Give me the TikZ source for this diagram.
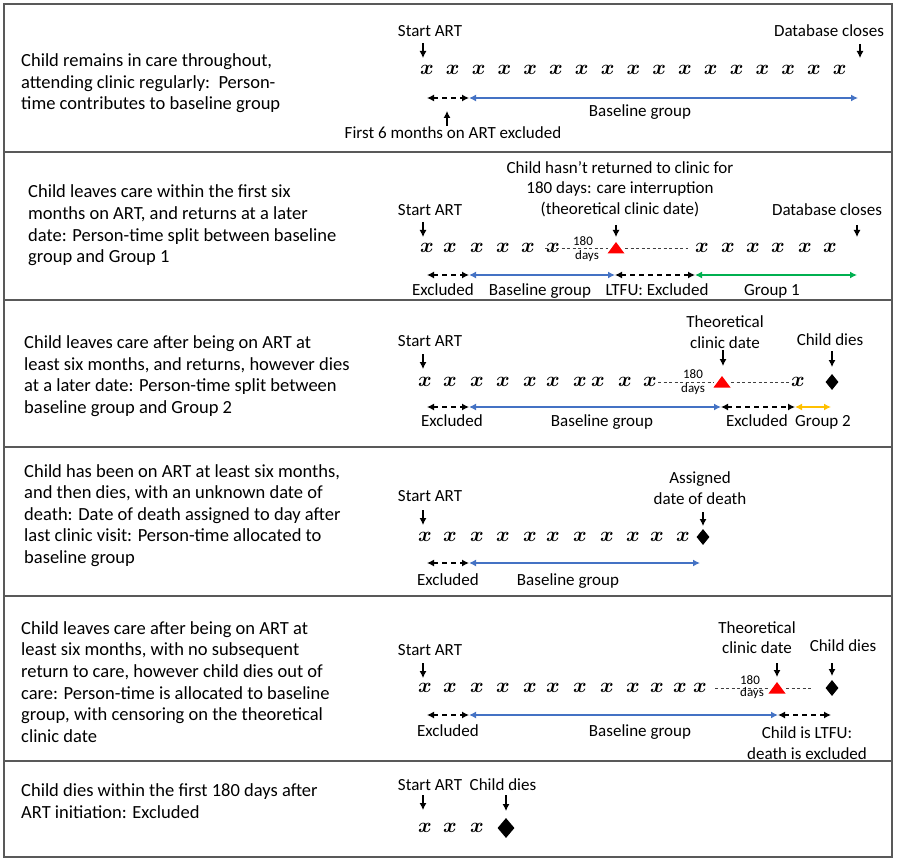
\documentclass[tikz,border=0pt]{standalone}
\usepackage{fontspec}
\usepackage{bm}
\setmainfont{Carlito}
\usetikzlibrary{arrows.meta,shapes.geometric,calc}
\definecolor{bl}{HTML}{4472C4}
\definecolor{gr}{HTML}{00B050}
\definecolor{yl}{HTML}{FFC000}
\definecolor{framec}{HTML}{595959}
\begin{document}
\begin{tikzpicture}[x=1pt,y=-1pt,
  desc/.style={anchor=west,align=left,inner sep=0,font=\fontsize{18.5}{21.6}\selectfont},
  lbl/.style={inner sep=0,align=center,font=\fontsize{17}{20.5}\selectfont},
  lbls/.style={lbl,text height=11pt,text depth=3.5pt},
  small/.style={inner sep=0,font=\fontsize{13}{13}\selectfont,text height=8pt,text depth=2.5pt},
  mk/.style={inner sep=0,font=\fontsize{21}{21}\selectfont},
  dia/.style={diamond,fill=black,inner sep=0,minimum width=13pt,minimum height=16pt},
  dn/.style={-{Latex[length=7pt,width=7pt]},line width=1.1pt},
  dashar/.style={{Latex[length=7pt,width=7pt]}-{Latex[length=7pt,width=7pt]},line width=1.3pt,dash pattern=on 5pt off 4pt},
  solar/.style={{Latex[length=7pt,width=7pt]}-{Latex[length=7pt,width=7pt]},line width=1.4pt},
  gap/.style={black!75,line width=0.9pt,dash pattern=on 3pt off 2.5pt},
  tri/.style={fill=red}
]
\useasboundingbox (0,0) rectangle (897,861);
\fill[white] (0,0) rectangle (897,861);
% frame
\draw[framec,line width=1.4pt] (4,4) rectangle (892,857);
\foreach \yy in {152,300,447,596,761} \draw[framec,line width=1.4pt] (4,\yy) -- (892,\yy);

% ---------------- Row 1
\node[desc] (d1) at (21,83.5) {Child remains in care throughout,\\attending clinic regularly:\ \ Person-\\time contributes to baseline group};
\node[lbls] (r1start) at (430,33) {Start ART};
\node[lbls] (r1db) at (829,33) {Database closes};
\foreach \i in {0,...,16} \node[mk] (r1x\i) at ({427+25.8*\i},70) {$\bm{x}$};
\coordinate (r1sa) at (423,43); \coordinate (r1sb) at (423,58);
\coordinate (r1da) at (860,44); \coordinate (r1db2) at (860,58);
\draw[dn] (r1sa) -- (r1sb);
\draw[dn] (r1da) -- (r1db2);
\coordinate (r1e0) at (427,98); \coordinate (r1e1) at (469,98); \coordinate (r1e2) at (858,98);
\draw[dashar] (r1e0) -- (r1e1);
\draw[solar,bl] (r1e1) -- (r1e2);
\node[lbls] (r1bg) at (640,113) {Baseline group};
\node[lbls] (r1first) at (453,135) {First 6 months on ART excluded};
\coordinate (r1ua) at (447,126); \coordinate (r1ub) at (447,111);
\draw[dn] (r1ua) -- (r1ub);

% ---------------- Row 2
\node[desc] (d2) at (28,225.5) {Child leaves care within the first six\\months on ART, and returns at a later\\date: Person-time split between baseline\\group and Group 1};
\node[lbl] (r2note) at (620,189) {Child hasn’t returned to clinic for\\180 days: care interruption\\(theoretical clinic date)};
\node[lbls] (r2start) at (430,212) {Start ART};
\node[lbls] (r2db) at (827,212) {Database closes};
\foreach \xx [count=\i] in {427,450,477,503,528,553,702,728,753,778,805,830} \node[mk] (r2x\i) at (\xx,248) {$\bm{x}$};
\coordinate (r2t) at (616,248);
\fill[tri] ($(r2t)+(-8.5,5.5)$) -- ($(r2t)+(8.5,5.5)$) -- ($(r2t)+(0,-6)$) -- cycle;
\coordinate (r2ga) at (545,248); \coordinate (r2gb) at (608,248);
\coordinate (r2gc) at (625,248); \coordinate (r2gd) at (688,248);
\draw[gap] (r2ga) -- (r2gb);
\draw[gap] (r2gc) -- (r2gd);
\node[small] (r2n180) at (583,243) {180};
\node[small] (r2days) at (587,257) {days};
\draw[dn] (423,222) coordinate (r2sa) -- (423,237) coordinate (r2sb);
\draw[dn] (616,225) coordinate (r2na) -- (616,237) coordinate (r2nb);
\draw[dn] (857,225) coordinate (r2da) -- (857,237) coordinate (r2dbb);
\coordinate (r2e0) at (427,275); \coordinate (r2e1) at (469,275);
\coordinate (r2e2) at (615,275); \coordinate (r2e3) at (695,275); \coordinate (r2e4) at (857,275);
\draw[dashar] (r2e0) -- (r2e1);
\draw[solar,bl] (r2e1) -- (r2e2);
\draw[dashar] (r2e2) -- (r2e3);
\draw[solar,gr] (r2e3) -- (r2e4);
\node[lbls] (r2ex) at (443,292) {Excluded};
\node[lbls] (r2bg) at (540,292) {Baseline group};
\node[lbls] (r2lt) at (657,292) {LTFU: Excluded};
\node[lbls] (r2g1) at (772,292) {Group 1};

% ---------------- Row 3
\node[desc] (d3) at (24,376) {Child leaves care after being on ART at\\least six months, and returns, however dies\\at a later date: Person-time split between\\baseline group and Group 2};
\node[lbl] (r3theo) at (725,332) {Theoretical\\clinic date};
\node[lbls] (r3start) at (430,343) {Start ART};
\node[lbls] (r3dies) at (830,342) {Child dies};
\foreach \xx [count=\i] in {425,450,477,503,530,553,580,598,625,650,798} \node[mk] (r3x\i) at (\xx,382) {$\bm{x}$};
\coordinate (r3t) at (722,382);
\fill[tri] ($(r3t)+(-8.5,5.5)$) -- ($(r3t)+(8.5,5.5)$) -- ($(r3t)+(0,-6)$) -- cycle;
\node[dia] (r3d) at (832,382) {};
\coordinate (r3ga) at (658,382); \coordinate (r3gb) at (714,382);
\coordinate (r3gc) at (731,382); \coordinate (r3gd) at (789,382);
\draw[gap] (r3ga) -- (r3gb);
\draw[gap] (r3gc) -- (r3gd);
\node[small] (r3n180) at (693,376) {180};
\node[small] (r3days) at (693,390) {days};
\draw[dn] (423,354) coordinate (r3sa) -- (423,369) coordinate (r3sb);
\draw[dn] (723,350) coordinate (r3ta) -- (723,366) coordinate (r3tb);
\draw[dn] (832,351) coordinate (r3ca) -- (832,367) coordinate (r3cb);
\coordinate (r3e0) at (427,407); \coordinate (r3e1) at (469,407);
\coordinate (r3e2) at (721,407); \coordinate (r3e3) at (795,407); \coordinate (r3e4) at (831,407);
\draw[dashar] (r3e0) -- (r3e1);
\draw[solar,bl] (r3e1) -- (r3e2);
\draw[dashar] (r3e2) -- (r3e3);
\draw[solar,yl] (r3e3) -- (r3e4);
\node[lbls] (r3ex) at (452,423) {Excluded};
\node[lbls] (r3bg) at (602,423) {Baseline group};
\node[lbls] (r3ex2) at (757,423) {Excluded};
\node[lbls] (r3g2) at (823,423) {Group 2};

% ---------------- Row 4
\node[desc] (d4) at (24,515.5) {Child has been on ART at least six months,\\and then dies, with an unknown date of\\death: Date of death assigned to day after\\last clinic visit: Person-time allocated to\\baseline group};
\node[lbl] (r4as) at (700,488) {Assigned\\date of death};
\node[lbls] (r4start) at (430,498) {Start ART};
\foreach \xx [count=\i] in {425,450,477,503,530,553,580,607,633,657,683} \node[mk] (r4x\i) at (\xx,537) {$\bm{x}$};
\node[dia] (r4d) at (703,537) {};
\draw[dn] (423,510) coordinate (r4sa) -- (423,525) coordinate (r4sb);
\draw[dn] (703,512) coordinate (r4aa) -- (703,526) coordinate (r4ab);
\coordinate (r4e0) at (427,563); \coordinate (r4e1) at (469,563); \coordinate (r4e2) at (700,563);
\draw[dashar] (r4e0) -- (r4e1);
\draw[solar,bl] (r4e1) -- (r4e2);
\node[lbls] (r4ex) at (448,582) {Excluded};
\node[lbls] (r4bg) at (568,582) {Baseline group};

% ---------------- Row 5
\node[desc] (d5) at (21,682) {Child leaves care after being on ART at\\least six months, with no subsequent\\return to care, however child dies out of\\care: Person-time is allocated to baseline\\group, with censoring on the theoretical\\clinic date};
\node[lbl] (r5theo) at (757,637.5) {Theoretical\\clinic date};
\node[lbls] (r5start) at (430,652) {Start ART};
\node[lbls] (r5dies) at (843,648) {Child dies};
\foreach \xx [count=\i] in {425,450,477,503,530,553,580,607,633,657,680,700} \node[mk] (r5x\i) at (\xx,688) {$\bm{x}$};
\coordinate (r5t) at (777,688);
\fill[tri] ($(r5t)+(-8.5,5.5)$) -- ($(r5t)+(8.5,5.5)$) -- ($(r5t)+(0,-6)$) -- cycle;
\node[dia] (r5d) at (832,688) {};
\coordinate (r5ga) at (715,688); \coordinate (r5gb) at (769,688);
\coordinate (r5gc) at (786,688); \coordinate (r5gd) at (811,688);
\draw[gap] (r5ga) -- (r5gb);
\draw[gap] (r5gc) -- (r5gd);
\node[small] (r5n180) at (750,682) {180};
\node[small] (r5days) at (752,694) {days};
\draw[dn] (423,663) coordinate (r5sa) -- (423,678) coordinate (r5sb);
\draw[dn] (777,663) coordinate (r5ta) -- (777,677) coordinate (r5tb);
\draw[dn] (832,663) coordinate (r5ca) -- (832,676) coordinate (r5cb);
\coordinate (r5e0) at (427,715); \coordinate (r5e1) at (469,715);
\coordinate (r5e2) at (778,715); \coordinate (r5e3) at (831,715);
\draw[dashar] (r5e0) -- (r5e1);
\draw[solar,bl] (r5e1) -- (r5e2);
\draw[dashar] (r5e2) -- (r5e3);
\node[lbls] (r5ex) at (448,733) {Excluded};
\node[lbls] (r5bg) at (640,733) {Baseline group};
\node[lbl] (r5lt) at (807,743) {Child is LTFU:\\death is excluded};

% ---------------- Row 6
\node[desc] (d6) at (21,801) {Child dies within the first 180 days after\\ART initiation: Excluded};
\node[lbls] (r6start) at (430,787) {Start ART};
\node[lbls] (r6dies) at (503,787) {Child dies};
\foreach \xx [count=\i] in {425,450,477} \node[mk] (r6x\i) at (\xx,828) {$\bm{x}$};
\node[dia,minimum width=17pt,minimum height=20pt] (r6d) at (506,828) {};
\draw[dn] (423,795) coordinate (r6sa) -- (423,810) coordinate (r6sb);
\draw[dn] (506,795) coordinate (r6ca) -- (506,811) coordinate (r6cb);
\end{tikzpicture}
\end{document}
